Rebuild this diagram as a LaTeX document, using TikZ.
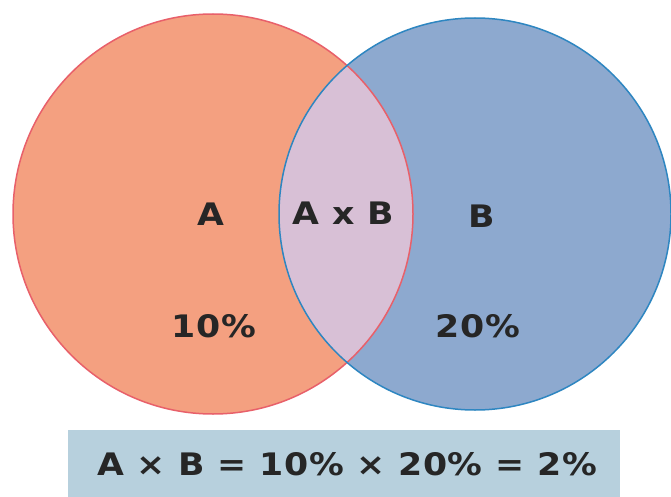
\documentclass[tikz,border=0pt]{standalone}
\usepackage{fontspec}
\newfontfamily\vfont[FakeStretch=1.12,LetterSpace=2]{DejaVu Sans}
\definecolor{afill}{HTML}{F4A080}
\definecolor{aline}{HTML}{E8606A}
\definecolor{bfill}{HTML}{8DA9CF}
\definecolor{bline}{HTML}{2E86C1}
\definecolor{abfill}{HTML}{D8C0D6}
\definecolor{boxfill}{HTML}{B7D0DD}
\definecolor{txt}{HTML}{262626}
\begin{document}
\begin{tikzpicture}[x=1pt,y=-1pt,
  lbl/.style={font=\vfont\bfseries\fontsize{31}{34}\selectfont, text=txt, inner sep=0pt}]
\useasboundingbox (0,0) rectangle (671,497);
\fill[white] (0,0) rectangle (671,497);
\coordinate (ca) at (213,214);
\coordinate (cb) at (475,214);
\fill[afill] (ca) circle[radius=200];
\fill[bfill] (cb) circle[radius=196];
\begin{scope}
  \clip (ca) circle[radius=200];
  \fill[abfill] (cb) circle[radius=196];
\end{scope}
\draw[aline, line width=1.5pt] (ca) circle[radius=200];
\draw[bline, line width=1.5pt] (cb) circle[radius=196];
\node[lbl] (la) at (211,214) {A};
\node[lbl] (lab) at (343,213) {A x B};
\node[lbl] (lb) at (482,216) {B};
\node[lbl] (pa) at (214,326) {10\%};
\node[lbl] (pb) at (478,326) {20\%};
\node[fill=boxfill, minimum width=552pt, minimum height=70pt, inner sep=0pt, anchor=north west] (box) at (68,430) {};
\node[lbl] (eq) at (347,464) {A × B = 10\% × 20\% = 2\%};
\end{tikzpicture}
\end{document}
